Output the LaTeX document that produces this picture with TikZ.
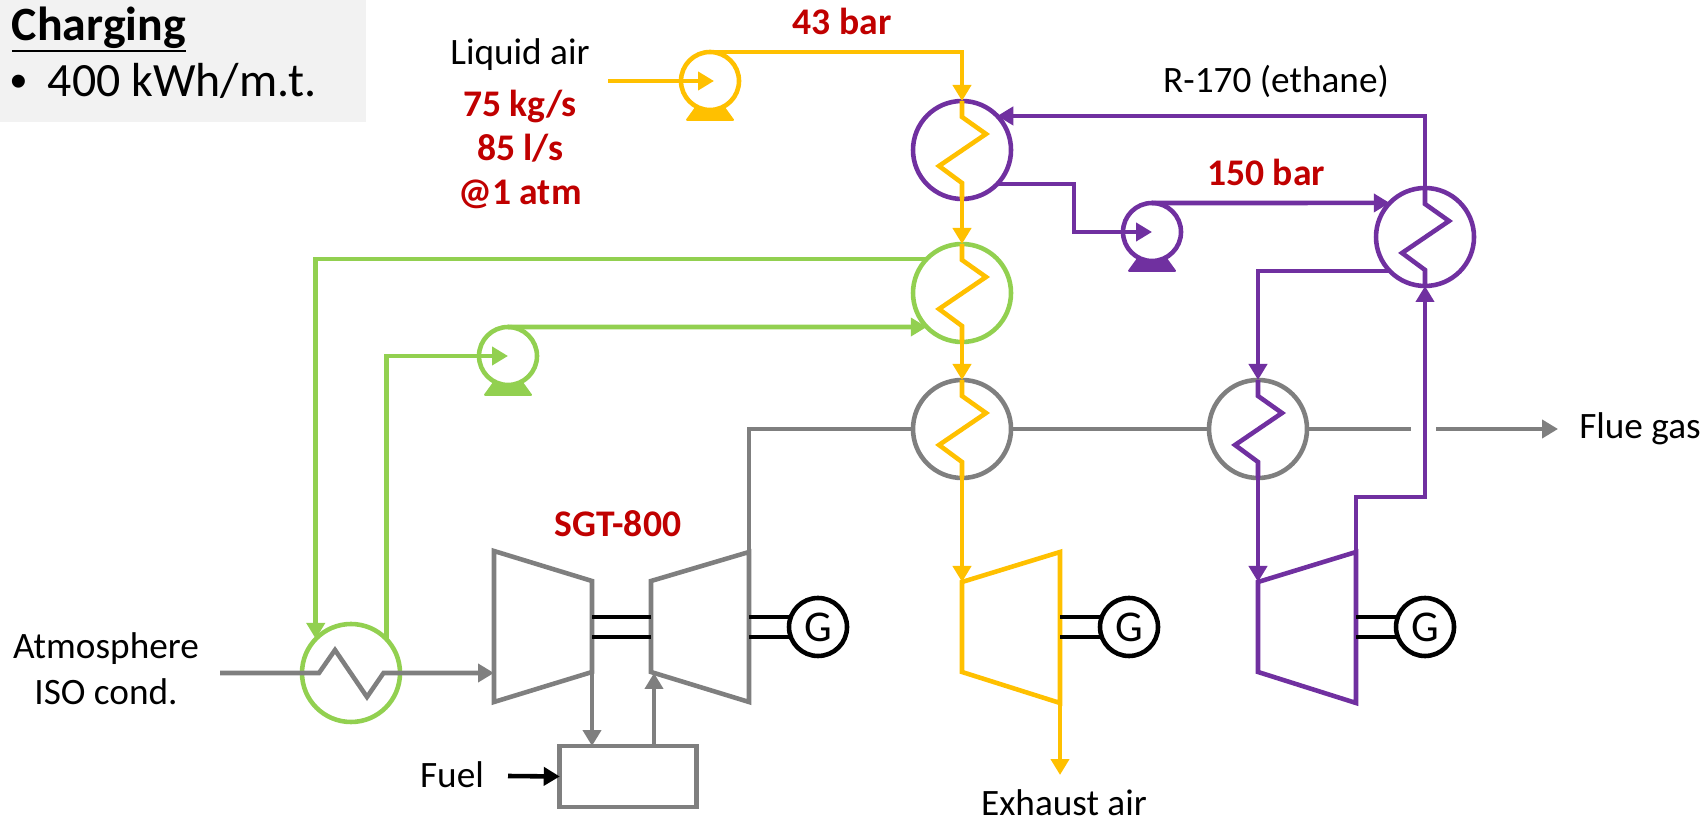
\documentclass[tikz,border=0pt]{standalone}
\usepackage{fontspec}
\setmainfont{Carlito}
\newfontfamily\bulfont{Liberation Sans}
\usetikzlibrary{arrows.meta}

\definecolor{cyel}{HTML}{FFC000}
\definecolor{cpur}{HTML}{7030A0}
\definecolor{cgrn}{HTML}{92D050}
\definecolor{cgry}{HTML}{7F7F7F}
\definecolor{cred}{HTML}{C00000}
\definecolor{cbox}{HTML}{F2F2F2}

\tikzset{
  flow/.style={line width=1.3pt},
  air/.style={flow, cyel},
  eth/.style={flow, cpur},
  grn/.style={flow, cgrn},
  gas/.style={flow, cgry},
  shaft/.style={line width=1.3pt, black},
  hx/.style={circle, flow, minimum size=0.98cm, inner sep=0pt, outer sep=0pt},
  pumpbody/.style={circle, flow, fill=white, minimum size=0.58cm, inner sep=0pt, outer sep=0pt},
  gen/.style={circle, draw=black, flow, fill=white, minimum size=0.58cm, inner sep=0pt, outer sep=0pt, font=\fontsize{12.5}{14}\selectfont},
  lab/.style={inner sep=0pt, outer sep=0pt, anchor=base, font=\fontsize{10.6}{12}\selectfont},
  redlab/.style={lab, text=cred, font=\fontsize{10.7}{12}\selectfont\bfseries},
  biglab/.style={inner sep=0pt, outer sep=0pt, anchor=base west, font=\fontsize{13.6}{16}\selectfont}
}

% pump: foot under a white disc
\newcommand{\pump}[3]{
  \fill[#3, shift={(#2)}, rounded corners=0.5pt] (-0.12,0.22) -- (0.12,0.22) -- (0.25,0.40) -- (-0.25,0.40) -- cycle;
  \node[pumpbody, draw=#3] (#1) at (#2) {};
}

\begin{document}
\begin{tikzpicture}[x=1cm, y=-1cm, >={Triangle[length=1.6mm,width=1.8mm]}]
  \useasboundingbox (0,0) rectangle (17.04,8.21);

  % Title box
  \fill[cbox] (0,0) rectangle (3.66,1.22);
  \node[biglab, font=\fontsize{13.6}{16}\selectfont\bfseries] (title) at (0.12,0.41) {\underline{\raisebox{0pt}[\height][1.5pt]{Charging}}};
  \node[biglab, font=\fontsize{13.6}{16}\selectfont\bulfont] (bullet) at (0.11,0.98) {•};
  \node[biglab] (spec) at (0.48,0.97) {400 kWh/m.t.};

  % Heat exchangers
  \node[hx, draw=cpur] (hxa) at (9.62,1.50) {};
  \node[hx, draw=cgrn] (hxb) at (9.62,2.93) {};
  \node[hx, draw=cgry] (hxc) at (9.62,4.29) {};
  \node[hx, draw=cgry] (hxd) at (12.58,4.29) {};
  \node[hx, draw=cpur] (hxe) at (14.25,2.37) {};
  \node[hx, draw=cgrn] (hxf) at (3.51,6.73) {};

  % Pumps
  \pump{pa}{7.10,0.81}{cyel}
  \pump{pb}{11.52,2.32}{cpur}
  \pump{pc}{5.08,3.56}{cgrn}

  % Generators
  \node[gen] (gg) at (8.18,6.27) {G};
  \node[gen] (gy) at (11.29,6.27) {G};
  \node[gen] (gp) at (14.25,6.27) {G};

  % Gas turbine set
  \draw[gas] (4.94,5.51) coordinate (ctl) -- (5.92,5.81) coordinate (ctr) -- (5.92,6.72) coordinate (cbr) -- (4.94,7.02) -- cycle;
  \draw[gas] (6.51,5.81) coordinate (ttl) -- (7.49,5.52) coordinate (ttr) -- (7.49,7.02) -- (6.51,6.72) -- cycle;
  \node[draw=cgry, flow, minimum width=1.365cm, minimum height=0.61cm, inner sep=0pt, outer sep=0pt] (cc) at (6.28,7.765) {};

  % Expanders
  \draw[air] (9.62,5.82) coordinate (atl) -- (10.60,5.52) coordinate (atr) -- (10.60,7.03) coordinate (abr) -- (9.62,6.72) -- cycle;
  \draw[eth] (12.58,5.82) coordinate (etl) -- (13.56,5.52) coordinate (etr) -- (13.56,7.03) -- (12.58,6.72) -- cycle;

  % Shafts
  \draw[shaft] (ctr |- gg.160) -- (ttl |- gg.160);
  \draw[shaft] (ctr |- gg.200) -- (ttl |- gg.200);
  \draw[shaft] (ttr |- gg.160) -- (gg.160);
  \draw[shaft] (ttr |- gg.200) -- (gg.200);
  \draw[shaft] (atr |- gy.160) -- (gy.160);
  \draw[shaft] (atr |- gy.200) -- (gy.200);
  \draw[shaft] (etr |- gp.160) -- (gp.160);
  \draw[shaft] (etr |- gp.200) -- (gp.200);

  % Air line
  \coordinate (lain) at (6.08,0.81);
  \coordinate (patip) at (7.14,0.81);
  \coordinate (exh) at (10.60,7.75);
  \draw[air,->] (lain) -- (patip);
  \draw[air,->] (pa.north) -| (hxa.north);
  \draw[air,->] (hxa.south) -- (hxb.north);
  \draw[air,->] (hxb.south) -- (hxc.north);
  \draw[air,->] (hxc.south) -- (atl);
  \draw[air,->] (abr) -- (exh);

  % Ethane line
  \coordinate (ebenda) at (10.74,2.32);
  \coordinate (ebendb) at (14.25,4.97);
  \draw[eth,->] (hxe.north) |- (hxa.44);
  \draw[eth,->] (hxa.-44) -| (ebenda) -- (pb.center);
  \draw[eth,->] (pb.north) -- (hxe.136);
  \draw[eth,->] (hxe.-136) -| (hxd.north);
  \draw[eth,->] (hxd.south) -- (etl);
  \draw[eth,->] (etr) |- (ebendb) -- (hxe.south);

  % Green loop
  \draw[grn,->] (hxb.136) -| (hxf.136);
  \draw[grn,->] (hxf.44) |- (pc.center);
  \draw[grn,->] (pc.north) -- (hxb.224);

  % Flue gas
  \coordinate (fga) at (14.11,4.29);
  \coordinate (fgb) at (14.36,4.29);
  \coordinate (fgc) at (15.58,4.29);
  \draw[gas] (ttr) |- (hxc.west);
  \draw[gas] (hxc.east) -- (hxd.west);
  \draw[gas] (hxd.east) -- (fga);
  \draw[gas,->] (fgb) -- (fgc);

  % Zigzags
  \foreach \hxn/\hxs in {hxa/air, hxb/air, hxc/air, hxd/eth, hxe/eth}
    \draw[\hxs] (\hxn.north) -- ++(0,0.16) -- ++(0.24,0.17) -- ++(-0.47,0.32) -- ++(0.23,0.17) -- (\hxn.south);

  % Intake through the cooler
  \coordinate (atm) at (2.20,6.73);
  \draw[gas,->] (atm) -- (3.19,6.73) -- (3.35,6.50) -- (3.67,6.97) -- (3.835,6.73) -- (ctl |- hxf.center);

  % Combustor
  \coordinate (ttin) at (6.54,6.73);
  \coordinate (fuelin) at (5.08,7.76);
  \draw[gas,->] (cbr) -- (cbr |- cc.north);
  \draw[gas,->] (ttin |- cc.north) -- (ttin);
  \draw[shaft,->] (fuelin) -- (cc.west);

  % Labels
  \node[lab] (liq) at (5.20,0.65) {Liquid air};
  \node[redlab] (mflow) at (5.20,1.17) {75 kg/s};
  \node[redlab] (vflow) at (5.20,1.61) {85 l/s};
  \node[redlab] (patm) at (5.20,2.05) {@1 atm};
  \node[redlab] (pair) at (8.42,0.35) {43 bar};
  \node[lab] (ethane) at (12.76,0.93) {R-170 (ethane)};
  \node[redlab] (peth) at (12.66,1.86) {150 bar};
  \node[redlab] (sgt) at (6.18,5.37) {SGT-800};
  \node[lab] (fuel) at (4.52,7.87) {Fuel};
  \node[lab] (atma) at (1.06,6.59) {Atmosphere};
  \node[lab] (atmb) at (1.06,7.05) {ISO cond.};
  \node[lab] (flue) at (16.40,4.39) {Flue gas};
  \node[lab] (exhaust) at (10.64,8.15) {Exhaust air};
\end{tikzpicture}
\end{document}
